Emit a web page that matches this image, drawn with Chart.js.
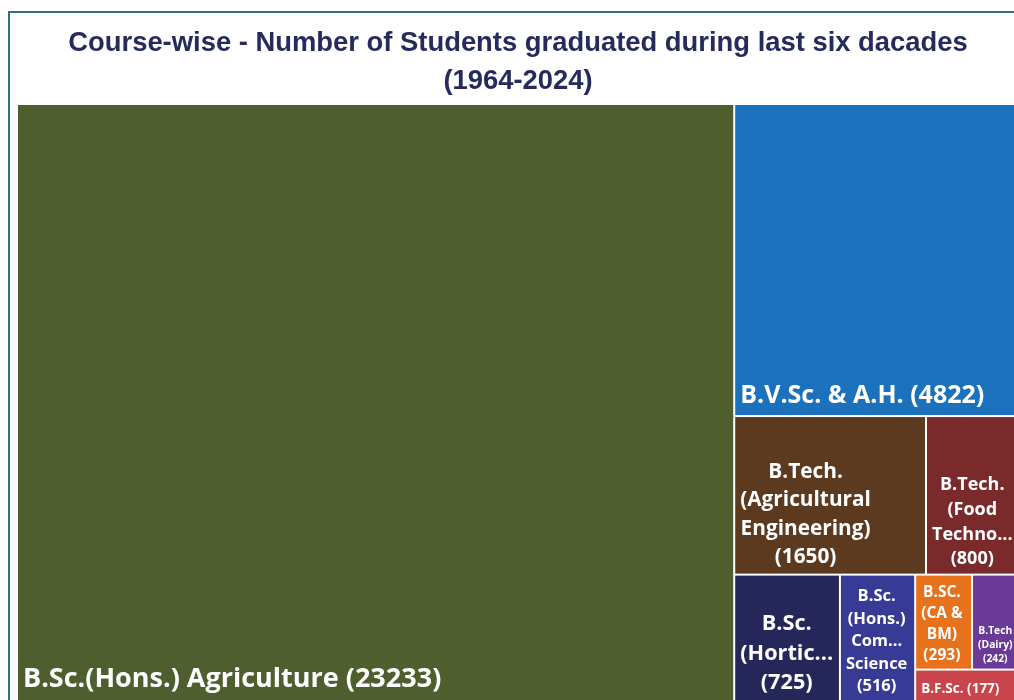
<!DOCTYPE html>
<html>
<head>
<meta charset="utf-8">
<script src="https://cdn.jsdelivr.net/npm/chart.js@4.4.1/dist/chart.umd.min.js"></script>
<style>
  html, body { margin: 0; padding: 0; background: #fff; overflow: hidden; width: 1014px; height: 700px; }
  #frame { position: absolute; left: 8px; top: 11px; width: 1040px; height: 720px; border: 2px solid #33707f; background: #fff; }
  #myChart { position: absolute; left: 0; top: 0; }
</style>
</head>
<body>
<div id="frame"></div>
<canvas id="myChart" width="1024" height="701"></canvas>
<script>
// data
const courses = [
  'B.Sc.(Hons.) Agriculture',
  'B.V.Sc. & A.H.',
  'B.Tech. (Agricultural Engineering)',
  'B.Tech. (Food Technology)',
  'B.Sc. (Horticulture)',
  'B.Sc. (Hons.) Community Science',
  'B.SC. (CA & BM)',
  'B.Tech (Dairy)',
  'B.F.Sc.'
];
const graduates = [23233, 4822, 1650, 800, 725, 516, 293, 242, 177];

// styles
const colours = ['#4f5e2e', '#1b71bc', '#5b3a20', '#7b2a2b', '#25265a', '#383b96', '#e8721c', '#6a3a98', '#c9444b'];
const labelSizes = [27, 25, 20.8, 18, 21.7, 16.5, 15.5, 10.3, 13.5];

const titleLines = ['Course-wise - Number of Students graduated during last six dacades', '(1964-2024)'];

// worst aspect ratio of a row laid along a side
function worstRatio(row, side, scale) {
  let s = 0;
  row.forEach(d => s += d.v * scale);
  let max = 0;
  row.forEach(d => {
    let a = d.v * scale;
    let r = Math.max(side * side * a / (s * s), (s * s) / (side * side * a));
    if (r > max) max = r;
  });
  return max;
}

// squarified layout in a w x h box (same units as the chart area)
function squarify(values, w, h) {
  let items = values.map((v, i) => ({ v: v, i: i }));
  let out = [];
  let x = 0, y = 0;
  let total = values.reduce((a, b) => a + b, 0);
  while (items.length) {
    let scale = (w * h) / total;
    let side = Math.min(w, h);
    let row = [items[0]];
    let worst = worstRatio(row, side, scale);
    let k = 1;
    while (k < items.length) {
      let next = row.concat(items[k]);
      let nw = worstRatio(next, side, scale);
      // slight preference for longer rows
      if (nw > worst * 1.02) break;
      row = next; worst = nw; k++;
    }
    let rowSum = 0;
    row.forEach(d => rowSum += d.v);
    let thick = rowSum * scale / side;
    let off = 0;
    if (w >= h) {
      row.forEach(d => { let len = d.v * scale / thick; out[d.i] = { x: x, y: y + off, w: thick, h: len }; off += len; });
      x += thick; w -= thick;
    } else {
      row.forEach(d => { let len = d.v * scale / thick; out[d.i] = { x: x + off, y: y, w: len, h: thick }; off += len; });
      y += thick; h -= thick;
    }
    total -= rowSum;
    items = items.slice(k);
  }
  return out;
}

function fitText(ctx, s, maxW) {
  if (ctx.measureText(s).width <= maxW) return s;
  let t = s;
  while (t.length > 1 && ctx.measureText(t + '...').width > maxW) t = t.slice(0, -1);
  return t + '...';
}

function wrapLabel(ctx, text, maxW) {
  if (ctx.measureText(text).width <= maxW) return [text];
  let words = text.split(' ');
  let lines = [], cur = '';
  words.forEach(wd => {
    let test = cur ? cur + ' ' + wd : wd;
    if (ctx.measureText(test).width <= maxW) cur = test;
    else { if (cur) lines.push(cur); cur = wd; }
  });
  if (cur) lines.push(cur);
  return lines.map(l => fitText(ctx, l, maxW));
}

const treemapPlugin = {
  id: 'treemap',
  afterDatasetsDraw(chart) {
    const ctx = chart.ctx;
    const area = chart.chartArea;
    const xs = chart.scales.x, ys = chart.scales.y;
    const aw = area.right - area.left, ah = area.bottom - area.top;
    const cells = squarify(graduates, aw, ah);
    ctx.save();
    cells.forEach((c, i) => {
      // go through the scales (0..100 on both axes)
      let left = xs.getPixelForValue(c.x / aw * 100);
      let right = xs.getPixelForValue((c.x + c.w) / aw * 100);
      let top = ys.getPixelForValue(c.y / ah * 100);
      let bottom = ys.getPixelForValue((c.y + c.h) / ah * 100);
      ctx.fillStyle = colours[i];
      ctx.fillRect(left + 1, top + 1, right - left - 2, bottom - top - 2);

      // label, bottom aligned, lines centred in a left aligned block
      let fs = labelSizes[i];
      ctx.font = 'bold ' + fs + 'px "Open Sans", "Noto Sans", sans-serif';
      let padL = 6, padR = 5.5;
      let lines = wrapLabel(ctx, courses[i] + ' (' + graduates[i] + ')', right - left - padL - padR);
      let lh = fs * 1.37;
      let blockW = 0;
      lines.forEach(l => blockW = Math.max(blockW, ctx.measureText(l).width));
      ctx.fillStyle = '#ffffff';
      ctx.textAlign = 'center';
      ctx.textBaseline = 'middle';
      let n = lines.length;
      lines.forEach((l, k) => {
        let cy = bottom - 3 - (n - k - 0.5) * lh;
        ctx.fillText(l, left + padL + blockW / 2, cy);
      });
    });
    ctx.restore();
  }
};

let myChart = new Chart(document.getElementById('myChart'), {
  type: 'scatter',
  data: { datasets: [{ data: [] }] },
  options: {
    responsive: false,
    animation: false,
    layout: { padding: { left: 17, right: 5, top: 0, bottom: 0 } },
    scales: {
      x: { type: 'linear', min: 0, max: 100, display: false },
      y: { type: 'linear', min: 0, max: 100, reverse: true, display: false }
    },
    plugins: {
      legend: { display: false },
      tooltip: { enabled: false },
      title: {
        display: true,
        text: titleLines,
        color: '#262b5e',
        font: { family: '"Liberation Sans", Arial, sans-serif', size: 27.4, weight: 'bold', lineHeight: '38px' },
        padding: { top: 24, bottom: 4 }
      }
    }
  },
  plugins: [treemapPlugin]
});
</script>
</body>
</html>
